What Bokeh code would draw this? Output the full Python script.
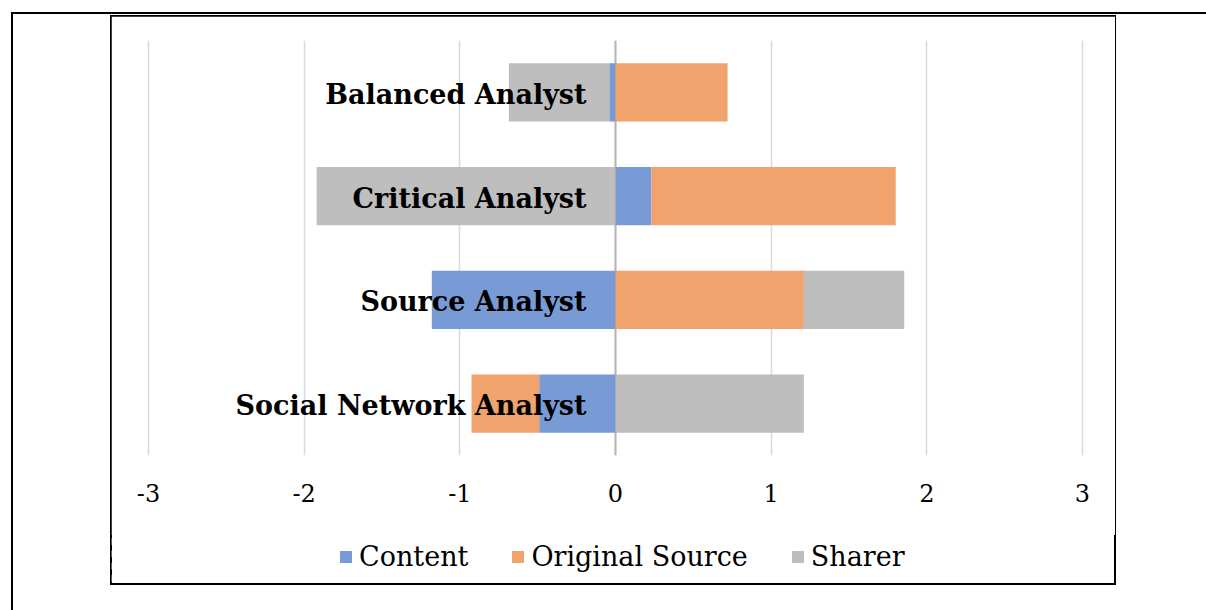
from bokeh.plotting import figure
from bokeh.layouts import column
from bokeh.models import FactorRange, Range1d, Legend, LegendItem, Span, FixedTicker
from bokeh.core.properties import value
from bokeh.embed import file_html
from bokeh.resources import INLINE
import numpy as np

categories = ["Balanced Analyst", "Critical Analyst", "Source Analyst", "Social Network Analyst"]
series_names = ["Content", "Original Source", "Sharer"]
content = [-0.04, 0.23, -1.18, -0.49]
original_source = [0.72, 1.57, 1.21, -0.435]
sharer = [-0.645, -1.92, 0.645, 1.21]
x_ticks = [-3, -2, -1, 0, 1, 2, 3]
series_colors = ["#6C93D2", "#EF9B5F", "#B9B9B9"]

SERIF = "DejaVu Serif"

# layout (pixels)
W, H = 1004, 568          # inner chart box
PAD = 8                   # frame slack so that edge grid lines show
FRAME_W, FRAME_H = 934 + 2 * PAD, 415
LEFT, TOP, BOTTOM = 29, 24, 80
LEG_H = H - (TOP + FRAME_H + BOTTOM)
delta = PAD * (x_ticks[-1] - x_ticks[0]) / 934

p = figure(frame_width=FRAME_W, frame_height=FRAME_H,
           y_range=FactorRange(factors=categories[::-1]),
           x_range=Range1d(x_ticks[0] - delta, x_ticks[-1] + delta),
           output_backend="svg", toolbar_location=None,
           min_border_left=LEFT, min_border_right=W - LEFT - FRAME_W,
           min_border_top=TOP, min_border_bottom=BOTTOM)
p.outline_line_color = None
p.background_fill_color = "white"
p.border_fill_color = "white"

# grid
p.ygrid.visible = False
p.xgrid.ticker = FixedTicker(ticks=x_ticks)
p.xgrid.grid_line_color = "#D9D9D9"
p.xgrid.grid_line_width = 1.5

p.add_layout(Span(location=0, dimension="height", line_color="#B5B5B5",
                  line_width=2, level="underlay"))

# stacked bars (positive and negative stacks separately)
pos = np.zeros(len(categories))
neg = np.zeros(len(categories))
bar_data = []
for vals, col in zip([content, original_source, sharer], series_colors):
    v = np.array(vals, dtype=float)
    left = np.where(v >= 0, pos, neg + v)
    right = np.where(v >= 0, pos + v, neg)
    pos = pos + np.clip(v, 0, None)
    neg = neg + np.clip(v, None, 0)
    bar_data.append((left, right, col))
    p.hbar(y=categories, left=left, right=right, height=0.56,
           fill_color=col, fill_alpha=0.92, line_color=None)

# category labels drawn at the axis position, over the bars
p.text(x=[0] * len(categories), y=categories, text=categories,
       x_offset=-29, y_offset=2, text_align="right", text_baseline="middle",
       text_font=value(SERIF), text_font_style="bold", text_font_size="27px",
       text_color="black")

p.yaxis.visible = False
ax = p.xaxis[0]
ax.ticker = FixedTicker(ticks=x_ticks)
ax.major_label_overrides = {t: str(t) for t in x_ticks}
ax.axis_line_color = None
ax.major_tick_line_color = None
ax.minor_tick_line_color = None
ax.major_tick_in = 0
ax.major_tick_out = 0
ax.major_label_standoff = 28
ax.major_label_text_font = SERIF
ax.major_label_text_font_size = "24px"
ax.major_label_text_color = "black"

# legend strip: a small figure whose bars (same data) lie outside its view,
# so that only the legend shows
pl = figure(width=W, height=LEG_H, output_backend="svg", toolbar_location=None,
            x_axis_location=None, y_axis_location=None,
            y_range=FactorRange(factors=categories[::-1]),
            x_range=Range1d(10, 11), min_border=0)
pl.grid.visible = False
pl.outline_line_color = None
pl.background_fill_alpha = 0
pl.border_fill_alpha = 0
pl.styles = {"position": "relative", "left": f"-{LEFT}px"}
leg_renderers = [pl.hbar(y=categories, left=l, right=r, height=0.56, fill_color=c,
                         fill_alpha=0.92, line_color=None) for l, r, c in bar_data]
legend = Legend(items=[LegendItem(label=n, renderers=[r]) for n, r in zip(series_names, leg_renderers)],
                orientation="horizontal", location=(227, 12),
                glyph_width=15, glyph_height=15, label_standoff=6, spacing=42,
                padding=0, margin=0, border_line_color=None,
                background_fill_alpha=0, label_text_font=SERIF,
                label_text_font_size="27px", label_height=30, label_text_color="black")
pl.add_layout(legend)

layout = column(p, pl, spacing=0)
layout.styles = {
    "position": "relative",
    "left": "111px",
    "top": "16px",
    "outline": "2px solid black",
    "outline-offset": "-1px",
    "box-shadow": "200px 296px 0 298px white, 200px 296px 0 300px black",
}

open("out.html", "w").write(file_html(layout, INLINE))
